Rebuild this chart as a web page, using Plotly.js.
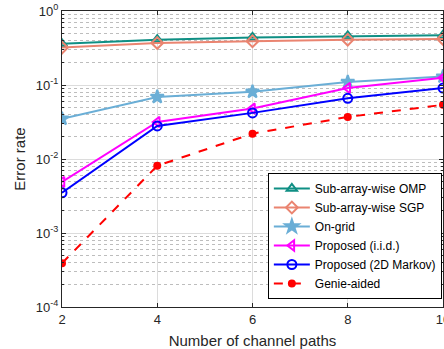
<!DOCTYPE html>
<html><head><meta charset="utf-8">
<script src="https://cdn.plot.ly/plotly-3.0.1.min.js"></script>
<style>html,body{margin:0;padding:0;background:#fff;}#chart{width:444px;height:349px;}</style>
</head><body><div id="chart"></div>
<script>
const paths = [2, 4, 6, 8, 10];
const omp = [0.36, 0.41, 0.44, 0.46, 0.47];
const sgp = [0.32, 0.37, 0.39, 0.41, 0.42];
const ongrid = [0.035, 0.069, 0.081, 0.11, 0.13];
const iid = [0.0049, 0.0316, 0.048, 0.091, 0.125];
const markov = [0.0035, 0.028, 0.042, 0.066, 0.091];
const genie = [0.00039, 0.0081, 0.022, 0.037, 0.054];
const yTickVals = [1e-4, 1e-3, 1e-2, 1e-1, 1];
const yTickText = ['10<sup>-4</sup>', '10<sup>-3</sup>', '10<sup>-2</sup>', '10<sup>-1</sup>', '10<sup>0</sup>'];
const minorVals = [];
[1e-4, 1e-3, 1e-2, 1e-1].forEach(d => { for (let k = 2; k <= 9; k++) minorVals.push(d * k); });

function tr(name, y, color, symbol, size, dash) {
  return {x: paths, y: y, name: name, type: 'scatter', mode: 'lines+markers',
    line: {color: color, width: 2, dash: dash || 'solid'},
    marker: {symbol: symbol, size: size, color: color, line: {color: color, width: 2}}};
}
const data = [
  tr('Sub-array-wise OMP', omp, '#0f8f84', 'triangle-up-open', 9),
  tr('Sub-array-wise SGP', sgp, '#ea8470', 'diamond-open', 9),
  tr('On-grid', ongrid, '#6aaed6', 'star', 10),
  tr('Proposed (i.i.d.)', iid, '#ff00ff', 'triangle-left-open', 9),
  tr('Proposed (2D Markov)', markov, '#0000ff', 'circle-open', 9),
  tr('Genie-aided', genie, '#ff0000', 'circle', 6, 'dash')
];
const layout = {
  width: 444, height: 349,
  margin: {l: 62, r: 1, t: 11, b: 42},
  paper_bgcolor: '#fff', plot_bgcolor: '#fff',
  font: {family: 'Liberation Sans, Arial, sans-serif', size: 13, color: '#262626'},
  showlegend: true,
  legend: {x: 0.997, y: 0.027, xanchor: 'right', yanchor: 'bottom',
    bgcolor: '#fff', bordercolor: '#000', borderwidth: 1,
    font: {size: 12, color: '#000'}, tracegroupgap: 0, itemwidth: 36},
  xaxis: {
    range: [2, 10], tickvals: paths, ticktext: paths.map(String), ticklabeloverflow: 'allow',
    title: {text: 'Number of channel paths', font: {size: 15}, standoff: 11},
    showline: true, linecolor: '#262626', linewidth: 1, mirror: 'allticks',
    ticks: 'inside', ticklen: 4, tickcolor: '#262626',
    showgrid: true, gridcolor: '#dcdcdc', zeroline: false
  },
  yaxis: {
    type: 'log', range: [-4, 0], tickvals: yTickVals, ticktext: yTickText, ticklabeloverflow: 'allow',
    title: {text: 'Error rate', font: {size: 15}, standoff: 6},
    showline: true, linecolor: '#262626', linewidth: 1, mirror: 'allticks',
    ticks: 'inside', ticklen: 4, tickcolor: '#262626',
    showgrid: true, gridcolor: '#dcdcdc', zeroline: false,
    minor: {tickmode: 'array', tickvals: minorVals, ticks: 'inside', ticklen: 2, tickcolor: '#262626',
      showgrid: true, gridcolor: '#bdbdbd', griddash: 'dot', gridwidth: 1}
  }
};
Plotly.newPlot('chart', data, layout, {staticPlot: true});
</script></body></html>
